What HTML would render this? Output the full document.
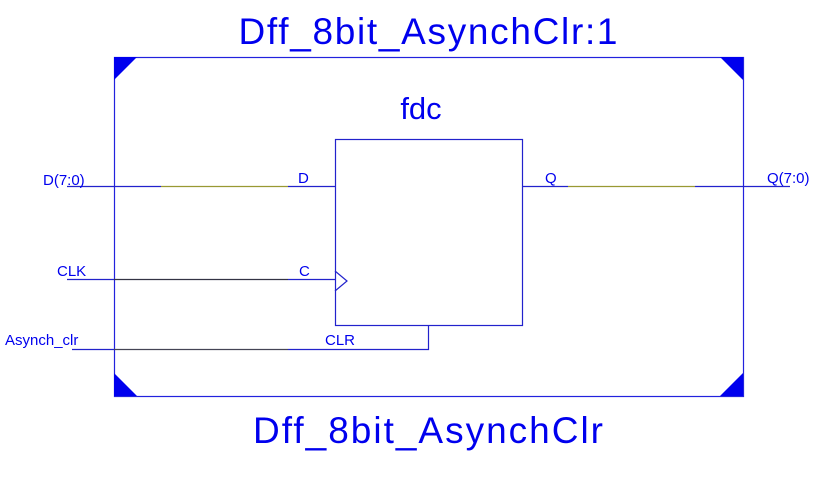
<!DOCTYPE html>
<html><head><style>html,body{margin:0;padding:0;background:#fff;}svg{display:block}</style></head>
<body>
<svg width="820" height="493" viewBox="0 0 820 493" xmlns="http://www.w3.org/2000/svg" font-family="Liberation Sans, Arial, sans-serif" fill="#0000ee">
<rect x="114.5" y="57.5" width="629" height="339" fill="none" stroke="#2222dd" stroke-width="1.2"/>
<polygon points="114,57 137,57 114,80" fill="#0000ee"/>
<polygon points="743,57 720,57 743,80" fill="#0000ee"/>
<polygon points="114,396 137,396 114,373" fill="#0000ee"/>
<polygon points="743,396 720,396 743,373" fill="#0000ee"/>
<rect x="335.5" y="139.5" width="187" height="186" fill="none" stroke="#2222cc" stroke-width="1.2"/>
<polyline points="335,271 347,281 335,291" fill="none" stroke="#2222cc" stroke-width="1.2"/>
<g stroke-width="1.2" fill="none">
<line x1="67" y1="186.5" x2="161" y2="186.5" stroke="#2222cc"/>
<line x1="161" y1="186.5" x2="288" y2="186.5" stroke="#999933"/>
<line x1="288" y1="186.5" x2="335" y2="186.5" stroke="#2222cc"/>
<line x1="522" y1="186.5" x2="568" y2="186.5" stroke="#2222cc"/>
<line x1="568" y1="186.5" x2="695" y2="186.5" stroke="#999933"/>
<line x1="695" y1="186.5" x2="790" y2="186.5" stroke="#2222cc"/>
<line x1="67" y1="279.5" x2="114" y2="279.5" stroke="#2222cc"/>
<line x1="114" y1="279.5" x2="288" y2="279.5" stroke="#333344"/>
<line x1="288" y1="279.5" x2="335" y2="279.5" stroke="#2222cc"/>
<line x1="72" y1="349.5" x2="114" y2="349.5" stroke="#2222cc"/>
<line x1="114" y1="349.5" x2="288" y2="349.5" stroke="#444455"/>
<polyline points="288,349.5 428.5,349.5 428.5,325" stroke="#2222cc"/>
</g>
<text x="428" y="44" font-size="37" text-anchor="middle" textLength="379">Dff_8bit_AsynchClr:1</text>
<text x="428" y="443" font-size="37" text-anchor="middle" textLength="350">Dff_8bit_AsynchClr</text>
<text x="421" y="119" font-size="31" text-anchor="middle">fdc</text>
<g font-size="15">
<text x="43" y="185">D(7:0)</text>
<text x="298" y="183">D</text>
<text x="57" y="276">CLK</text>
<text x="299" y="276">C</text>
<text x="5" y="345">Asynch_clr</text>
<text x="325" y="345">CLR</text>
<text x="545" y="183">Q</text>
<text x="767" y="183">Q(7:0)</text>
</g>
</svg>
</body></html>
